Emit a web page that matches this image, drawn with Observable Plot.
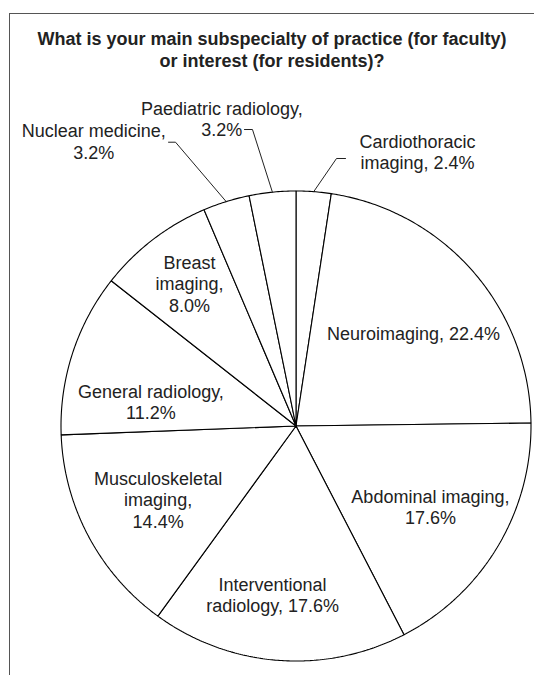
<!DOCTYPE html>
<html>
<head>
<meta charset="utf-8">
<script src="https://cdn.jsdelivr.net/npm/d3@7"></script>
<script src="https://cdn.jsdelivr.net/npm/@observablehq/plot@0.6"></script>
<style>
  html, body { margin: 0; padding: 0; background: #fff; overflow: hidden; }
  body { width: 534px; height: 675px; position: relative; font-family: "Liberation Sans", Arial, sans-serif; }
  #frame { position: absolute; left: 9px; top: 13px; width: 525px; height: 662px; border-left: 1px solid #555; border-top: 1px solid #555; box-sizing: border-box; }
  #title { position: absolute; left: 10px; width: 524px; top: 28px; text-align: center; font-weight: bold; font-size: 18px; line-height: 22px; color: #222; }
  #chart { position: absolute; left: 0; top: 0; width: 534px; height: 675px; }
</style>
</head>
<body>
<div id="frame"></div>
<div id="chart"></div>
<div id="title">What is your main subspecialty of practice (for faculty)<br>or interest (for residents)?</div>
<script>
// ---- data ----
const categories = ["Cardiothoracic imaging", "Neuroimaging", "Abdominal imaging", "Interventional radiology",
  "Musculoskeletal imaging", "General radiology", "Breast imaging", "Nuclear medicine", "Paediatric radiology"];
const shares = [2.4, 22.4, 17.6, 17.6, 14.4, 11.2, 8.0, 3.2, 3.2];

// ---- layout (label placement relative to each slice's mid angle) ----
const labelRadius = [1.2774, 0.636, 0.667, 0.724, 0.665, 0.626, 0.757, 1.486, 1.346];
const labelTurn = [19.56, 2.84, 0, 3.6, 0, -8.4, 0.66, -18.1, -7.8];
const wrapChars = [14, 20, 18, 16, 13, 18, 8, 17, 21];
const leaderSlices = [0, 8, 7];
const leaderElbow = [[1.1513, 4.29], [1.2752, -2.59], [1.312, -5.72]];
const leaderEnd = [[1.1576, 6.17], [1.2805, -4.10], [1.3238, -6.91]];

const total = d3.sum(shares);
const rad = (deg) => deg * Math.PI / 180;
const polar = (r, deg) => [r * Math.sin(rad(deg)), r * Math.cos(rad(deg))];

// slice angles (degrees clockwise from 12 o'clock)
let acc = 0;
const slices = categories.map((name, i) => {
  const a0 = acc / total * 360;
  acc += shares[i];
  const a1 = acc / total * 360;
  return {name, value: shares[i], a0, a1, mid: (a0 + a1) / 2, i};
});

// polygon points of each slice
const slicePts = [];
for (const s of slices) {
  slicePts.push({name: s.name, x: 0, y: 0});
  const n = Math.max(2, Math.ceil((s.a1 - s.a0) / 0.5));
  for (let k = 0; k <= n; k++) {
    const [x, y] = polar(1, s.a0 + (s.a1 - s.a0) * k / n);
    slicePts.push({name: s.name, x, y});
  }
  slicePts.push({name: s.name, x: 0, y: 0});
}

function wrap(text, max) {
  const words = text.split(" ");
  const lines = [];
  let cur = "";
  for (const w of words) {
    if (cur === "") cur = w;
    else if ((cur + " " + w).length <= max) cur += " " + w;
    else { lines.push(cur); cur = w; }
  }
  if (cur) lines.push(cur);
  return lines.join("\n");
}

const labels = slices.map((s) => {
  const [x, y] = polar(labelRadius[s.i], s.mid + labelTurn[s.i]);
  return {x, y, text: wrap(`${s.name}, ${s.value.toFixed(1)}%`, wrapChars[s.i])};
});

const leaderPts = [];
leaderSlices.forEach((si, j) => {
  const s = slices[si];
  const p0 = polar(1, s.mid);
  const p1 = polar(leaderElbow[j][0], s.mid + leaderElbow[j][1]);
  const p2 = polar(leaderEnd[j][0], s.mid + leaderEnd[j][1]);
  for (const p of [p0, p1, p2]) leaderPts.push({k: j, x: p[0], y: p[1]});
});

const cx = 295.5, cy = 425.5, R = 235;
const chart = Plot.plot({
  width: 534,
  height: 675,
  margin: 0,
  style: {background: "transparent", fontFamily: "'Liberation Sans', Arial, sans-serif"},
  x: {domain: [-1, 1], range: [cx - R, cx + R], axis: null},
  y: {domain: [-1, 1], range: [cy + R, cy - R], axis: null},
  marks: [
    Plot.line(slicePts, {x: "x", y: "y", z: "name", fill: "white", stroke: "#000", strokeWidth: 1.1, strokeLinejoin: "miter"}),
    Plot.line(leaderPts, {x: "x", y: "y", z: "k", stroke: "#222", strokeWidth: 1}),
    Plot.text(labels, {x: "x", y: "y", text: "text", fontSize: 18, lineHeight: 1.2, fill: "#222", textAnchor: "middle"})
  ]
});
document.getElementById("chart").appendChild(chart);
</script>
</body>
</html>
